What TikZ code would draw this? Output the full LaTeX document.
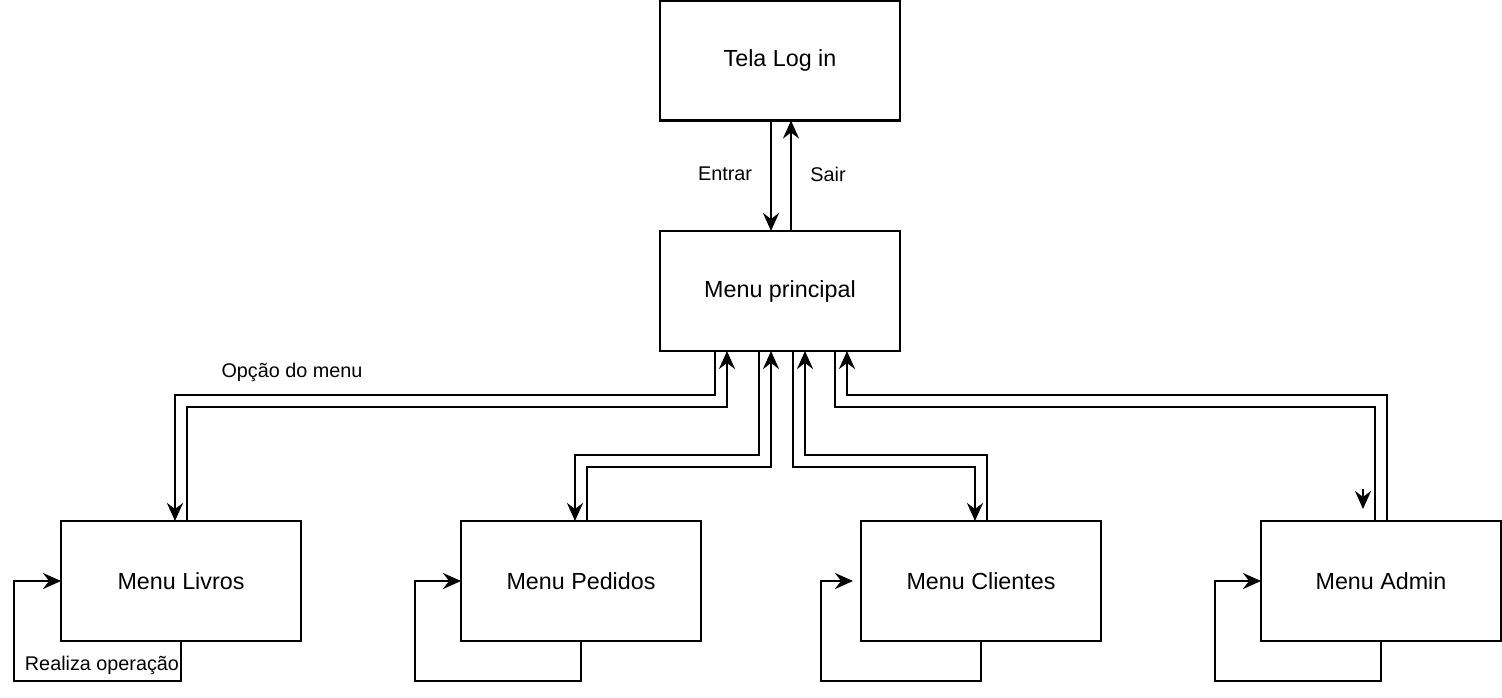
\documentclass[tikz,border=0pt]{standalone}
\usepackage{fontspec}
\setmainfont{Liberation Sans}
\usetikzlibrary{arrows.meta}
\tikzset{
  box/.style={draw=black, line width=2.6pt, rectangle, minimum width=240pt, minimum height=120pt, inner sep=0pt, outer sep=0pt, font=\fontsize{23.3}{27}\selectfont},
  conn/.style={draw=black, line width=2.6pt},
  arr/.style={conn, -{Stealth[length=18pt,width=16pt,inset=6pt]}},
  lbl/.style={font=\fontsize{19.8}{23}\selectfont, inner sep=0pt}
}
\begin{document}
\begin{tikzpicture}[x=1pt,y=-1pt]
\useasboundingbox (0,0) rectangle (1502,698);
\node[box] (login) at (780,60.5) {Tela Log in};
\node[box] (main) at (780,291) {Menu principal};
\node[box] (livros) at (181,581) {Menu Livros};
\node[box] (pedidos) at (581,581) {Menu Pedidos};
\node[box] (clientes) at (981,581) {Menu Clientes};
\node[box] (admin) at (1381,581) {Menu Admin};
% login <-> main
\draw[arr] ([xshift=-9pt]login.south) -- ([xshift=-9pt]main.north);
\draw[arr] ([xshift=11pt]main.north) -- ([xshift=11pt]login.south);
\node[lbl] (entrar) at (725,174) {Entrar};
\node[lbl] (sair) at (828,174) {Sair};
% Livros
\draw[arr] ([xshift=-65pt]main.south) -- ++(0,44) -| ([xshift=-6pt]livros.north);
\draw[arr] ([xshift=6pt]livros.north) -- ++(0,-114) -| ([xshift=-53pt]main.south);
\node[lbl] (opcao) at (292,372) {Opção do menu};
% Pedidos
\draw[arr] ([xshift=-21pt]main.south) -- ++(0,104) -| ([xshift=-6pt]pedidos.north);
\draw[arr] ([xshift=6pt]pedidos.north) -- ++(0,-54) -| ([xshift=-9pt]main.south);
% Clientes
\draw[arr] ([xshift=13pt]main.south) -- ++(0,116) -| ([xshift=-6pt]clientes.north);
\draw[arr] ([xshift=6pt]clientes.north) -- ++(0,-66) -| ([xshift=25pt]main.south);
% Admin
\draw[conn] ([xshift=55pt]main.south) -- ++(0,56) -| ([xshift=-6pt]admin.north);
\draw[arr] ([xshift=6pt]admin.north) -- ++(0,-126) -| ([xshift=67pt]main.south);
\coordinate (stubA) at (1363,489);
\coordinate (stubB) at (1363,509);
\draw[arr] (stubA) -- (stubB);
% self loops
\draw[arr] (livros.south) -- ++(0,40) -- ++(-167,0) |- (livros.west);
\node[lbl] (realiza) at (102,665) {Realiza operação};
\draw[arr] (pedidos.south) -- ++(0,40) -- ++(-166,0) |- (pedidos.west);
\draw[arr] (clientes.south) -- ++(0,40) -- ++(-160,0) |- ([xshift=-8pt]clientes.west);
\draw[arr] (admin.south) -- ++(0,40) -- ++(-166,0) |- (admin.west);
\end{tikzpicture}
\end{document}
